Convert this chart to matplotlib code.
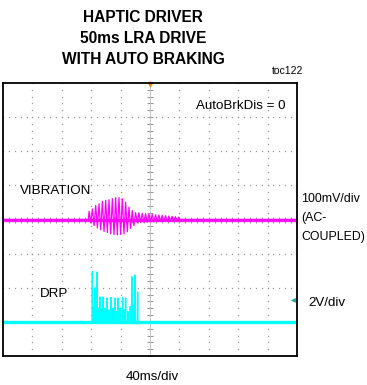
import numpy as np
import matplotlib
matplotlib.use("Agg")
import matplotlib.pyplot as plt

plt.rcParams['font.family'] = ['Liberation Sans', 'DejaVu Sans']

# ---- data (scope divisions: x 0..10, y -4..4) ----
title_lines = ["HAPTIC DRIVER", "50ms LRA DRIVE", "WITH AUTO BRAKING"]
vib_start = 2.90          # div where burst begins
vib_period = 0.113        # div per cycle
vib_up = [0.24, 0.31, 0.41, 0.46, 0.53, 0.56, 0.58, 0.61, 0.64, 0.64, 0.61, 0.51, 0.36, 0.26]
vib_dn = [0.10, 0.18, 0.25, 0.30, 0.35, 0.38, 0.42, 0.44, 0.45, 0.44, 0.42, 0.36, 0.26, 0.18]
ring_up = [0.20, 0.20, 0.18, 0.17, 0.16, 0.15, 0.14, 0.13, 0.12, 0.11, 0.10, 0.09, 0.08, 0.07]
ring_dn = [0.10, 0.09, 0.08, 0.08, 0.07, 0.07, 0.06, 0.06, 0.05, 0.05, 0.05, 0.04, 0.04, 0.04]
drp_t = [3.04, 3.09, 3.13, 3.19, 3.24, 3.30, 3.35, 3.40, 3.47, 3.54, 3.60, 3.67, 3.74,
         3.81, 3.86, 3.91, 3.98, 4.07, 4.12, 4.17, 4.25, 4.33, 4.38, 4.44, 4.49, 4.58]
drp_h = [1.47, 0.45, 1.00, 1.46, 0.40, 0.73, 0.35, 0.73, 0.40, 0.70, 0.35, 0.72, 0.40,
         0.70, 0.30, 0.70, 0.40, 0.72, 0.35, 0.70, 0.30, 0.45, 1.32, 0.50, 1.37, 0.87]
vib_base = 0.0
drp_base = -3.0

MAG = '#ff00ff'
CYN = '#00ffff'

fig = plt.figure(figsize=(3.67, 3.85), dpi=100)
ax = fig.add_axes([3/367, 1-356/385, 294/367, 273/385])
ax.set_xlim(0, 10)
ax.set_ylim(-4, 4)
ax.set_xticks([]); ax.set_yticks([])
for s in ax.spines.values():
    s.set_linewidth(1.3); s.set_color('black')

# grid dots
dots = np.arange(0, 10.001, 0.2)
for gy in range(-3, 4):
    if gy == 0:
        continue
    ax.plot(dots, np.full_like(dots, gy), ls='none', marker='s', ms=0.9, color='#999999', mew=0)
vd = np.arange(-4, 4.001, 0.2)
for gx in range(1, 10):
    if gx == 5:
        continue
    ax.plot(np.full_like(vd, gx), vd, ls='none', marker='s', ms=0.9, color='#999999', mew=0)
# center crosshair with minor ticks
ax.plot(dots, np.zeros_like(dots), ls='none', marker='|', ms=4, color='#999999', mew=0.8)
ax.plot(np.full_like(vd, 5), vd, ls='none', marker='_', ms=4, color='#999999', mew=0.8)
ax.axvline(5, color='#bbbbbb', lw=0.6)
ax.axhline(0, color='#bbbbbb', lw=0.6)
ax.plot([5], [3.98], marker='v', ms=3, color='#ff8000', clip_on=False)

# vibration trace
vt = [0.0, vib_start]
vy = [vib_base, vib_base]
t = vib_start
for u, d in zip(vib_up, vib_dn):
    vt += [t + vib_period*0.25, t + vib_period*0.75]
    vy += [vib_base + u, vib_base - d]
    t += vib_period
for u, d in zip(ring_up, ring_dn):
    vt += [t + vib_period*0.25, t + vib_period*0.75]
    vy += [vib_base + u, vib_base - d]
    t += vib_period
vt += [t, 10.0]
vy += [vib_base, vib_base]
ax.plot(vt, vy, color=MAG, lw=0.9)
ax.plot([0, 10], [vib_base, vib_base], color=MAG, lw=2.4, alpha=0.9)

# DRP trace
dt = [0.0]
dy = [drp_base]
w = 0.012
for tt, hh in zip(drp_t, drp_h):
    dt += [tt - w, tt, tt + w]
    dy += [drp_base, drp_base + hh, drp_base]
dt += [10.0]
dy += [drp_base]
ax.plot(dt, dy, color=CYN, lw=1.0)
ax.plot([0, 10], [drp_base, drp_base], color=CYN, lw=2.4)

# marker triangle
fig.text(293/367, 1-299/385, '\u25c2', color='#20a0a0', fontsize=7, ha='center', va='center',
         family='DejaVu Sans')

# texts
TS = 11.2
LS = 9.6
RS = 8.9
for i, line in enumerate(title_lines):
    fig.text(143/367, 1-(17 + i*21.5)/385, line, ha='center', va='center',
             fontsize=TS, fontweight='bold')
fig.text(288/367, 1-71/385, 'toc122', ha='center', va='center', fontsize=7.5)
fig.text(241/367, 1-106/385, 'AutoBrkDis = 0', ha='center', va='center', fontsize=LS)
fig.text(20/367, 1-191/385, 'VIBRATION', ha='left', va='center', fontsize=LS)
fig.text(40/367, 1-294/385, 'DRP', ha='left', va='center', fontsize=LS)
fig.text(301/367, 1-199/385, '100mV/div', ha='left', va='center', fontsize=RS)
fig.text(301/367, 1-218/385, '(AC-', ha='left', va='center', fontsize=RS)
fig.text(301/367, 1-237/385, 'COUPLED)', ha='left', va='center', fontsize=RS)
fig.text(308/367, 1-303/385, '2V/div', ha='left', va='center', fontsize=LS)
fig.text(152/367, 1-377/385, '40ms/div', ha='center', va='center', fontsize=LS)

fig.savefig('out.png', dpi=100)
